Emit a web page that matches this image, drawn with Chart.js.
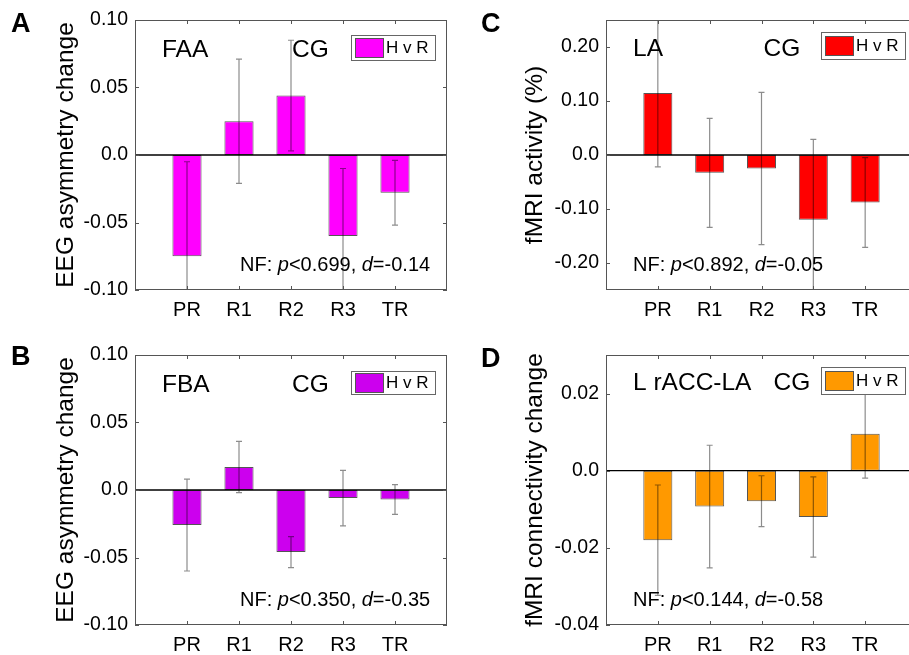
<!DOCTYPE html>
<html>
<head>
<meta charset="utf-8">
<title>H v R bar panels</title>
<script src="https://cdn.jsdelivr.net/npm/chart.js@4.4.0/dist/chart.umd.min.js"></script>
<style>
  html, body { margin: 0; padding: 0; background: #fff; overflow: hidden; width: 909px; height: 655px; }
  canvas { position: absolute; }
</style>
</head>
<body>
<canvas id="chartA" width="455" height="335" style="left:0;top:0"></canvas>
<canvas id="chartC" width="470" height="335" style="left:455px;top:0"></canvas>
<canvas id="chartB" width="455" height="335" style="left:0;top:335px"></canvas>
<canvas id="chartD" width="470" height="335" style="left:455px;top:335px"></canvas>
<script>
// categories shared by all four panels
const categories = ['PR', 'R1', 'R2', 'R3', 'TR'];

// A: frontal alpha asymmetry
const faaMeans = [-0.075, 0.025, 0.044, -0.060, -0.028];
const faaErrors = [0.070, 0.046, 0.041, 0.050, 0.024];
// B: frontal beta asymmetry
const fbaMeans = [-0.026, 0.017, -0.046, -0.006, -0.007];
const fbaErrors = [0.034, 0.019, 0.0115, 0.0205, 0.011];
// C: left amygdala activity
const laMeans = [0.115, -0.033, -0.025, -0.120, -0.088];
const laErrors = [0.137, 0.101, 0.141, 0.149, 0.083];
// D: L rACC-LA connectivity
const connMeans = [-0.018, -0.0093, -0.0079, -0.012, 0.0096];
const connErrors = [0.0143, 0.0159, 0.0066, 0.0104, 0.0115];

const eegTicks = [-0.1, -0.05, 0, 0.05, 0.1];
const activityTicks = [-0.2, -0.1, 0, 0.1, 0.2];
const connTicks = [-0.04, -0.02, 0, 0.02];

const FAMILY = '"Liberation Sans", Arial, Helvetica, sans-serif';
const font = (size, style = '') => `${style} ${size}px ${FAMILY}`.trim();
const tickLabel = (v) => (Math.abs(v) < 1e-9 ? '0.0' : Number(v).toFixed(2));

Chart.defaults.font.family = FAMILY;
Chart.defaults.color = '#000';

function decor(cfg) {
  return {
    id: 'decor',
    afterDatasetsDraw(chart) {
      const { ctx, chartArea: area, scales: { x, y } } = chart;

      // zero line and error bars, clipped to the axes
      ctx.save();
      ctx.beginPath();
      ctx.rect(area.left, area.top, area.right - area.left, area.bottom - area.top);
      ctx.clip();
      const y0 = y.getPixelForValue(0);
      ctx.strokeStyle = '#000';
      ctx.lineWidth = 1.3;
      ctx.beginPath();
      ctx.moveTo(area.left, y0);
      ctx.lineTo(area.right, y0);
      ctx.stroke();

      ctx.strokeStyle = 'rgba(0,0,0,0.45)';
      ctx.lineWidth = 1.2;
      cfg.means.forEach((m, i) => {
        const px = x.getPixelForValue(i + 1);
        const hi = y.getPixelForValue(m + cfg.errors[i]);
        const lo = y.getPixelForValue(m - cfg.errors[i]);
        ctx.beginPath();
        ctx.moveTo(px, hi);
        ctx.lineTo(px, lo);
        ctx.moveTo(px - 3, hi);
        ctx.lineTo(px + 3, hi);
        ctx.moveTo(px - 3, lo);
        ctx.lineTo(px + 3, lo);
        ctx.stroke();
      });
      ctx.restore();

      ctx.save();
      ctx.fillStyle = '#000';
      ctx.textAlign = 'left';
      ctx.textBaseline = 'middle';

      // region / group headings
      ctx.font = font(24.5);
      ctx.fillText(cfg.region, area.left + cfg.regionDx, area.top + cfg.headDy);
      ctx.fillText('CG', area.left + cfg.groupDx, area.top + cfg.headDy);

      // stats line, p and d in italics
      let sx = area.left + cfg.statDx;
      const sy = area.bottom - cfg.statDy;
      [
        ['NF: ', ''],
        ['p', 'italic'],
        [`<${cfg.p}, `, ''],
        ['d', 'italic'],
        [`=${cfg.d}`, ''],
      ].forEach(([t, st]) => {
        ctx.font = font(20, st);
        ctx.fillText(t, sx, sy);
        sx += ctx.measureText(t).width;
      });

      // legend box
      const bw = 84;
      const bh = cfg.legendH;
      const bx = Math.round(area.right - 12 - bw);
      const by = Math.round(area.top + cfg.legendDy);
      ctx.fillStyle = '#fff';
      ctx.fillRect(bx, by, bw, bh);
      ctx.strokeStyle = '#666';
      ctx.lineWidth = 1;
      ctx.strokeRect(bx + 0.5, by + 0.5, bw, bh);
      const sh = 19;
      const swx = bx + 4;
      const swy = by + Math.round((bh - sh) / 2);
      ctx.fillStyle = cfg.color;
      ctx.fillRect(swx, swy, 28, sh);
      ctx.strokeStyle = '#555';
      ctx.strokeRect(swx + 0.5, swy + 0.5, 28, sh);
      ctx.fillStyle = '#000';
      ctx.font = font(17);
      ctx.fillText(chart.data.datasets[0].label, swx + 31, by + bh / 2 + 1);

      // axes box with inward ticks
      ctx.strokeStyle = '#555';
      ctx.lineWidth = 1;
      ctx.strokeRect(area.left + 0.5, area.top + 0.5, area.right - area.left - 1, area.bottom - area.top - 1);
      ctx.beginPath();
      categories.forEach((c, i) => {
        const px = Math.round(x.getPixelForValue(i + 1)) + 0.5;
        ctx.moveTo(px, area.bottom);
        ctx.lineTo(px, area.bottom - 4);
        ctx.moveTo(px, area.top);
        ctx.lineTo(px, area.top + 4);
      });
      cfg.yTicks.forEach((v) => {
        const py = Math.round(y.getPixelForValue(v)) + 0.5;
        ctx.moveTo(area.left, py);
        ctx.lineTo(area.left + 4, py);
        ctx.moveTo(area.right, py);
        ctx.lineTo(area.right - 4, py);
      });
      ctx.stroke();

      // panel letter
      ctx.textBaseline = 'alphabetic';
      ctx.font = font(27, 'bold');
      ctx.fillText(cfg.letter, cfg.letterX, cfg.letterY);
      ctx.restore();
    },
  };
}

function makePanel(id, cfg) {
  return new Chart(document.getElementById(id), {
    type: 'bar',
    data: {
      labels: ['', ...categories, ''],
      datasets: [
        {
          label: 'H v R',
          data: [null, ...cfg.means, null],
          backgroundColor: cfg.color,
          borderColor: '#555',
          borderWidth: 1,
          borderSkipped: false,
          barPercentage: 0.56,
          categoryPercentage: 1,
        },
      ],
    },
    options: {
      responsive: false,
      animation: false,
      layout: { padding: { top: 20, right: cfg.rightPad, left: 0, bottom: 0 } },
      plugins: { legend: { display: false }, tooltip: { enabled: false } },
      scales: {
        x: {
          offset: false,
          grid: { display: false, drawTicks: false },
          border: { display: false },
          ticks: { font: { size: 20 }, padding: 8, autoSkip: false, maxRotation: 0 },
          afterFit: (s) => { s.height = 45; },
        },
        y: {
          min: cfg.yMin,
          max: cfg.yMax,
          grid: { display: false, drawTicks: false },
          border: { display: false },
          afterBuildTicks: (s) => { s.ticks = cfg.yTicks.map((v) => ({ value: v })); },
          ticks: { font: { size: 19.5 }, padding: 7, callback: (v) => tickLabel(v) },
          title: {
            display: true,
            text: cfg.yTitle,
            font: { size: 24.5 },
            padding: { top: cfg.titlePad, bottom: 0 },
          },
          afterFit: (s) => { s.width = cfg.axisWidth; },
        },
      },
    },
    plugins: [decor(cfg)],
  });
}

makePanel('chartA', {
  letter: 'A', letterX: 11, letterY: 32,
  color: '#ff00ff', means: faaMeans, errors: faaErrors,
  yMin: -0.1, yMax: 0.1, yTicks: eegTicks, yTitle: 'EEG asymmetry change',
  axisWidth: 135, titlePad: 52, rightPad: 6,
  region: 'FAA', regionDx: 27, groupDx: 157, headDy: 30,
  statDx: 105, statDy: 24.5, p: '0.699', d: '-0.14',
  legendDy: 15, legendH: 25,
});

makePanel('chartB', {
  letter: 'B', letterX: 11, letterY: 30,
  color: '#cc00ee', means: fbaMeans, errors: fbaErrors,
  yMin: -0.1, yMax: 0.1, yTicks: eegTicks, yTitle: 'EEG asymmetry change',
  axisWidth: 135, titlePad: 52, rightPad: 6,
  region: 'FBA', regionDx: 27, groupDx: 157, headDy: 30,
  statDx: 105, statDy: 24.5, p: '0.350', d: '-0.35',
  legendDy: 16, legendH: 23,
});

makePanel('chartC', {
  letter: 'C', letterX: 26, letterY: 32,
  color: '#ff0000', means: laMeans, errors: laErrors,
  yMin: -0.25, yMax: 0.25, yTicks: activityTicks, yTitle: 'fMRI activity (%)',
  axisWidth: 151, titlePad: 66, rightPad: 5.5,
  region: 'LA', regionDx: 27, groupDx: 157.5, headDy: 29.5,
  statDx: 27, statDy: 25, p: '0.892', d: '-0.05',
  legendDy: 12, legendH: 27,
});

makePanel('chartD', {
  letter: 'D', letterX: 26, letterY: 32,
  color: '#ff9900', means: connMeans, errors: connErrors,
  yMin: -0.04, yMax: 0.03, yTicks: connTicks, yTitle: 'fMRI connectivity change',
  axisWidth: 151, titlePad: 66, rightPad: 5.5,
  region: 'L rACC-LA', regionDx: 27, groupDx: 167.5, headDy: 28.5,
  statDx: 27, statDy: 25, p: '0.144', d: '-0.58',
  legendDy: 12, legendH: 27,
});
</script>
</body>
</html>
